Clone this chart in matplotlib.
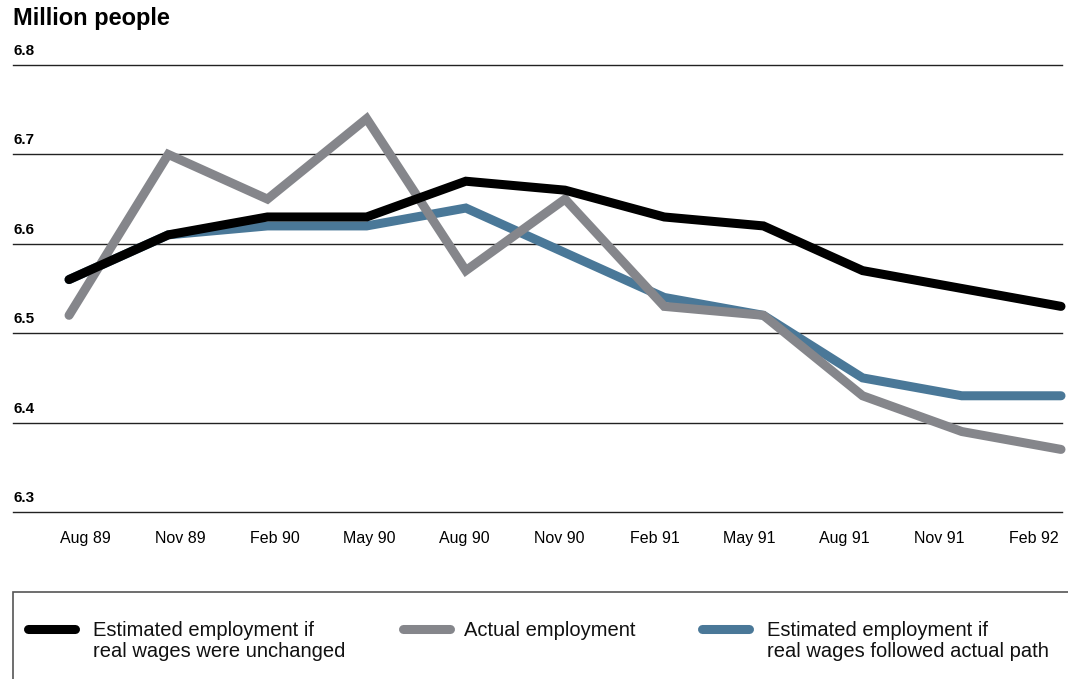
import numpy as np
import matplotlib
matplotlib.use("Agg")
import matplotlib.pyplot as plt
from matplotlib.lines import Line2D
from matplotlib.patches import Rectangle

plt.rcParams['font.family'] = ['Liberation Sans', 'DejaVu Sans']

# quarterly data, million people
quarters = ['Aug 89', 'Nov 89', 'Feb 90', 'May 90', 'Aug 90', 'Nov 90',
            'Feb 91', 'May 91', 'Aug 91', 'Nov 91', 'Feb 92']
est_unchanged = [6.56, 6.61, 6.63, 6.63, 6.67, 6.66, 6.63, 6.62, 6.57, 6.55, 6.53]
actual = [6.52, 6.70, 6.65, 6.74, 6.57, 6.65, 6.53, 6.52, 6.43, 6.39, 6.37]
est_actual_path = [6.56, 6.61, 6.62, 6.62, 6.64, 6.59, 6.54, 6.52, 6.45, 6.43, 6.43]
y_ticks = [6.3, 6.4, 6.5, 6.6, 6.7, 6.8]

BLACK = '#000000'
GREY = '#85868b'
BLUE = '#4a7898'

W, H = 1068, 679
fig = plt.figure(figsize=(W / 100, H / 100), dpi=100)
ax = fig.add_axes([13 / W, (H - 512) / H, (1062 - 13) / W, (512 - 65) / H])

x = np.arange(len(quarters))
lw = 6.5
ax.plot(x, est_actual_path, color=BLUE, lw=lw, solid_capstyle='round',
        solid_joinstyle='miter', clip_on=False, zorder=3)
ax.plot(x, actual, color=GREY, lw=lw, solid_capstyle='round',
        solid_joinstyle='miter', clip_on=False, zorder=4)
ax.plot(x, est_unchanged, color=BLACK, lw=lw, solid_capstyle='round',
        solid_joinstyle='miter', clip_on=False, zorder=5)

ax.set_xlim(-0.565, 10.01)
ax.set_ylim(6.3, 6.8)

# horizontal rules with the value sitting above each one
for yv in y_ticks:
    ax.axhline(yv, color='#222222', lw=1.0, clip_on=False, zorder=1)
    ax.annotate(f'{yv:.1f}', xy=(0, yv), xycoords=('axes fraction', 'data'),
                xytext=(0, 5), textcoords='offset points', ha='left', va='bottom',
                fontsize=11, fontweight='bold')

for s in ax.spines.values():
    s.set_visible(False)
ax.set_yticks([])
ax.set_xticks(np.linspace(0.16, 9.73, len(quarters)))
ax.set_xticklabels(quarters, fontsize=11.5)
ax.tick_params(axis='x', length=0, pad=14)

fig.text(13 / W, 1 - 19 / H, 'Million people', fontsize=17, fontweight='bold',
         ha='left', va='center')

# legend box along the bottom
fig.patches.append(Rectangle((13 / W, -0.05), 1.0, (H - 592) / H + 0.05,
                             transform=fig.transFigure, fill=False,
                             edgecolor='#555555', lw=1.2, clip_on=False))
entries = [
    (BLACK, 25, 93, 'Estimated employment if\nreal wages were unchanged'),
    (GREY, 400, 464, 'Actual employment'),
    (BLUE, 699, 767, 'Estimated employment if\nreal wages followed actual path'),
]
for col, hx, tx, label in entries:
    fig.lines.append(Line2D([(hx + 3) / W, (hx + 50) / W], [1 - 629 / H, 1 - 629 / H],
                            transform=fig.transFigure, color=col, lw=lw,
                            solid_capstyle='round'))
    fig.text(tx / W, 1 - 621 / H, label, fontsize=14.5, ha='left', va='top',
             linespacing=1.12, color='#111111')

fig.savefig('out.png', dpi=100)
